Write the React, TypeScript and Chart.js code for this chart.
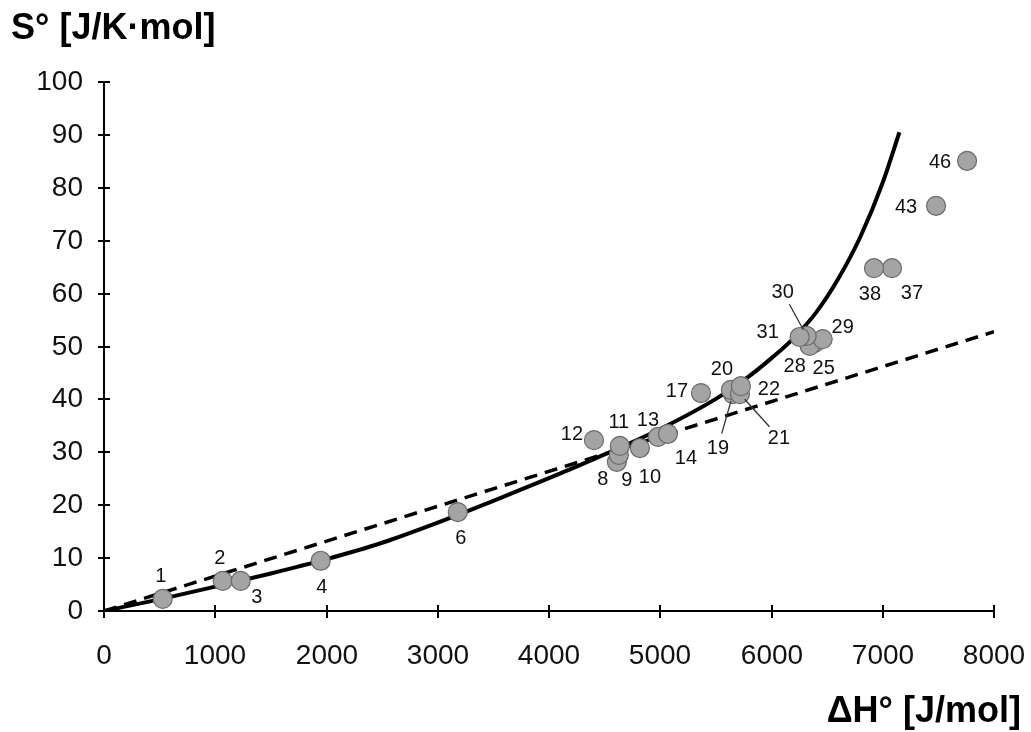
import { useEffect, useRef } from 'react';
import { Chart, registerables } from 'chart.js';

Chart.register(...registerables);

// ---- Data ----
const pointIds = [1, 2, 3, 4, 6, 8, 9, 10, 11, 12, 13, 14, 17, 19, 20, 21, 22, 25, 28, 29, 30, 31, 37, 38, 43, 46];
const pointDH = [528, 1067, 1229, 1948, 3180, 4610, 4628, 4817, 4637, 4404, 4979, 5069, 5366, 5653, 5635, 5716, 5725, 6388, 6343, 6460, 6316, 6253, 7083, 6921, 7479, 7758];
const pointS = [2.3, 5.7, 5.7, 9.5, 18.7, 28.2, 29.5, 30.8, 31.2, 32.3, 32.9, 33.5, 41.2, 41.0, 41.8, 41.0, 42.5, 50.7, 50.1, 51.4, 52.0, 51.8, 64.8, 64.8, 76.6, 85.1];

const curveDH = [0, 500, 1000, 1500, 2000, 2500, 3000, 3500, 4000, 4500, 5000, 5500, 5800, 6000, 6200, 6400, 6600, 6800, 7000, 7150];
const curveS = [0, 2.2, 4.6, 7.1, 9.8, 12.9, 16.7, 20.8, 25.1, 29.6, 34.4, 40.1, 44.4, 47.8, 51.6, 56.4, 62.8, 70.8, 81.0, 90.5];

const trendDH = [0, 8000];
const trendS = [0, 52.8];

const xTicks = [0, 1000, 2000, 3000, 4000, 5000, 6000, 7000, 8000];
const yTicks = [0, 10, 20, 30, 40, 50, 60, 70, 80, 90, 100];

const xTitle = 'ΔH° [J/mol]';
const yTitle = 'S° [J/K·mol]';

// ---- Label styling (pixel offsets of each number from its marker) ----
const labelOffsets: Record<number, [number, number]> = {
  1: [-2, -23], 2: [-3, -23], 3: [16, 16], 4: [1, 26], 6: [3, 25],
  8: [-14, 17], 9: [8, 25], 10: [10, 28], 11: [-1, -24], 12: [-22, -7],
  13: [-10, -17], 14: [18, 24], 17: [-24, -3], 19: [-15, 53], 20: [-9, -21],
  21: [39, 43], 22: [28, 2], 25: [9, 25], 28: [-15, 20], 29: [20, -13],
  30: [-24, -44], 31: [-32, -5], 37: [20, 24], 38: [-4, 25], 43: [-30, 1], 46: [-27, 1],
};
const leaderIds = [19, 21, 30];

const FONT = "'Liberation Sans', Arial, Helvetica, sans-serif";

const decor = {
  id: 'decor',
  beforeDatasetsDraw(chart: any) {
    const { ctx, scales } = chart;
    const xs = scales.x;
    const ys = scales.y;
    ctx.save();
    ctx.strokeStyle = '#000';
    ctx.lineWidth = 2;
    const ax = xs.left;
    const ay = ys.bottom;
    ctx.font = `28px ${FONT}`;
    ctx.fillStyle = '#111';
    yTicks.forEach((v) => {
      const py = Math.round(ys.getPixelForValue(v));
      ctx.beginPath();
      ctx.moveTo(ax - 6, py);
      ctx.lineTo(ax + 6, py);
      ctx.stroke();
      ctx.textAlign = 'right';
      ctx.textBaseline = 'middle';
      ctx.fillText(String(v), ax - 21, py);
    });
    xTicks.forEach((v) => {
      const px = Math.round(xs.getPixelForValue(v));
      ctx.beginPath();
      ctx.moveTo(px, ay - 6);
      ctx.lineTo(px, ay + 7);
      ctx.stroke();
      ctx.textAlign = 'center';
      ctx.textBaseline = 'middle';
      ctx.fillText(String(v), px, ay + 45);
    });
    ctx.restore();
  },
  afterDatasetsDraw(chart: any) {
    const { ctx } = chart;
    const meta = chart.getDatasetMeta(0);
    ctx.save();
    ctx.font = `20px ${FONT}`;
    ctx.fillStyle = '#111';
    ctx.textAlign = 'center';
    ctx.textBaseline = 'middle';
    meta.data.forEach((el: any, i: number) => {
      const id = pointIds[i];
      const off = labelOffsets[id] || [0, -22];
      const lx = el.x + off[0];
      const ly = el.y + off[1];
      if (leaderIds.includes(id)) {
        const dx = el.x - lx;
        const dy = el.y - ly;
        const d = Math.hypot(dx, dy);
        const ux = dx / d;
        const uy = dy / d;
        ctx.strokeStyle = '#333';
        ctx.lineWidth = 1.3;
        ctx.beginPath();
        ctx.moveTo(lx + ux * 14, ly + uy * 14);
        ctx.lineTo(el.x - ux * 7, el.y - uy * 7);
        ctx.stroke();
      }
      ctx.fillText(String(id), lx, ly + 1);
    });
    // axis titles
    ctx.font = `bold 36px ${FONT}`;
    ctx.fillStyle = '#000';
    ctx.textAlign = 'left';
    ctx.textBaseline = 'middle';
    ctx.fillText(yTitle, 11, 29);
    ctx.textAlign = 'right';
    ctx.fillText(xTitle, 1021, 712);
    ctx.restore();
  },
};

export default function App() {
  const ref = useRef<HTMLCanvasElement | null>(null);
  useEffect(() => {
    document.body.style.margin = '0';
    document.body.style.overflow = 'hidden';
    const canvas = ref.current;
    if (!canvas) return;
    const chart = new Chart(canvas, {
      type: 'scatter',
      data: {
        datasets: [
          {
            label: 'data',
            data: pointDH.map((x, i) => ({ x, y: pointS[i] })),
            backgroundColor: '#a4a4a4',
            borderColor: '#6a6a6a',
            borderWidth: 1.2,
            pointRadius: 9.5,
            showLine: false,
            order: 0,
          },
          {
            label: 'curve',
            data: curveDH.map((x, i) => ({ x, y: curveS[i] })),
            showLine: true,
            borderColor: '#000',
            borderWidth: 4,
            pointRadius: 0,
            cubicInterpolationMode: 'monotone',
            fill: false,
            order: 1,
          },
          {
            label: 'trend',
            data: trendDH.map((x, i) => ({ x, y: trendS[i] })),
            showLine: true,
            borderColor: '#000',
            borderWidth: 3.5,
            borderDash: [13, 8],
            pointRadius: 0,
            fill: false,
            order: 2,
          },
        ],
      } as any,
      options: {
        responsive: false,
        animation: false,
        events: [],
        layout: { padding: { top: 82, right: 37, left: 0, bottom: 0 } },
        plugins: { legend: { display: false }, tooltip: { enabled: false } },
        scales: {
          x: {
            type: 'linear',
            min: 0,
            max: 8000,
            afterBuildTicks: (s: any) => {
              s.ticks = xTicks.map((v) => ({ value: v }));
            },
            grid: { display: false, drawTicks: false },
            border: { display: true, color: '#000', width: 2 },
            ticks: { display: false },
            afterFit: (s: any) => {
              s.height = 121;
            },
          },
          y: {
            type: 'linear',
            min: 0,
            max: 100,
            afterBuildTicks: (s: any) => {
              s.ticks = yTicks.map((v) => ({ value: v }));
            },
            grid: { display: false, drawTicks: false },
            border: { display: true, color: '#000', width: 2 },
            ticks: { display: false },
            afterFit: (s: any) => {
              s.width = 104;
            },
          },
        },
      } as any,
      plugins: [decor],
    });
    return () => chart.destroy();
  }, []);
  return (
    <canvas
      ref={ref}
      width={1031}
      height={732}
      style={{ display: 'block', width: 1031, height: 732, background: '#fff' }}
    />
  );
}
